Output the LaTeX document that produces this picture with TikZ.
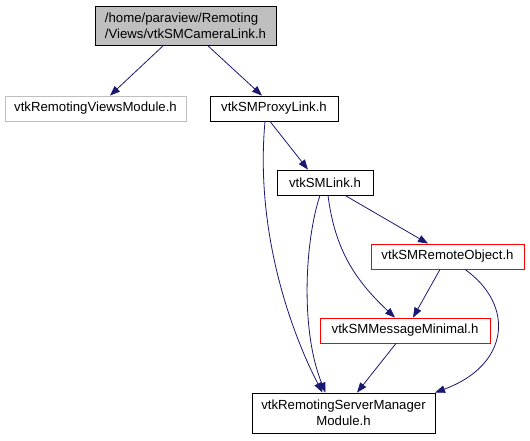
\documentclass[tikz,border=0pt]{standalone}
\usepackage{fontspec}
\setmainfont{Liberation Sans}
\usetikzlibrary{arrows.meta}
\definecolor{edgecol}{HTML}{191970}
\definecolor{graybox}{HTML}{BFBFBF}
\tikzset{
  box/.style={draw=black, rectangle, inner sep=0pt, minimum height=25pt, font=\fontsize{13.2}{16}\selectfont, thick},
  rbox/.style={box, draw=red},
  gbox/.style={box, draw=graybox},
  edge/.style={draw=edgecol, thick, -{Triangle[length=10pt,width=7.5pt]}}
}
\begin{document}
\begin{tikzpicture}[x=1pt,y=-1pt]
\useasboundingbox (0,0) rectangle (530,440);
\node[box, fill=graybox, minimum width=181pt, minimum height=39pt, align=left] (top) at (185.5,25.5) {/home/paraview/Remoting\\/Views/vtkSMCameraLink.h};
\node[gbox, minimum width=181pt] (rvm) at (95.5,108.5) {vtkRemotingViewsModule.h};
\node[box, minimum width=128pt] (pl) at (274,108.5) {vtkSMProxyLink.h};
\node[box, minimum width=96pt] (lk) at (325,182.5) {vtkSMLink.h};
\node[rbox, minimum width=153pt] (ro) at (447.5,256.5) {vtkSMRemoteObject.h};
\node[rbox, minimum width=170pt] (mm) at (405,330.5) {vtkSMMessageMinimal.h};
\node[box, minimum width=183pt, minimum height=40pt, align=center] (rsm) at (343.5,413) {vtkRemotingServerManager\\Module.h};

\draw[edge] ([xshift=-22pt]top.south) -- ([xshift=14.5pt]rvm.north);
\draw[edge] ([xshift=22pt]top.south) -- ([xshift=-12pt]pl.north);
\draw[edge] ([xshift=-4pt]pl.south) -- ([xshift=-17pt]lk.north);
\draw[edge] ([xshift=-9pt]pl.south) .. controls (255,230) and (290,330) .. ([xshift=-21pt]rsm.north);
\draw[edge] ([xshift=-5pt]lk.south) .. controls (305,240) and (300,330) .. ([xshift=-18pt]rsm.north);
\draw[edge] ([xshift=3pt]lk.south) .. controls (335,250) and (355,280) .. ([xshift=-10pt]mm.north);
\draw[edge] ([xshift=20pt]lk.south) -- ([xshift=-19.5pt]ro.north);
\draw[edge] ([xshift=-7.5pt]ro.south) -- ([xshift=8pt]mm.north);
\draw[edge] ([xshift=17.5pt]ro.south) .. controls (515,305) and (510,365) .. ([xshift=91.5pt]rsm.north);
\draw[edge] ([xshift=-9pt]mm.south) -- ([xshift=13.5pt]rsm.north);
\end{tikzpicture}
\end{document}
